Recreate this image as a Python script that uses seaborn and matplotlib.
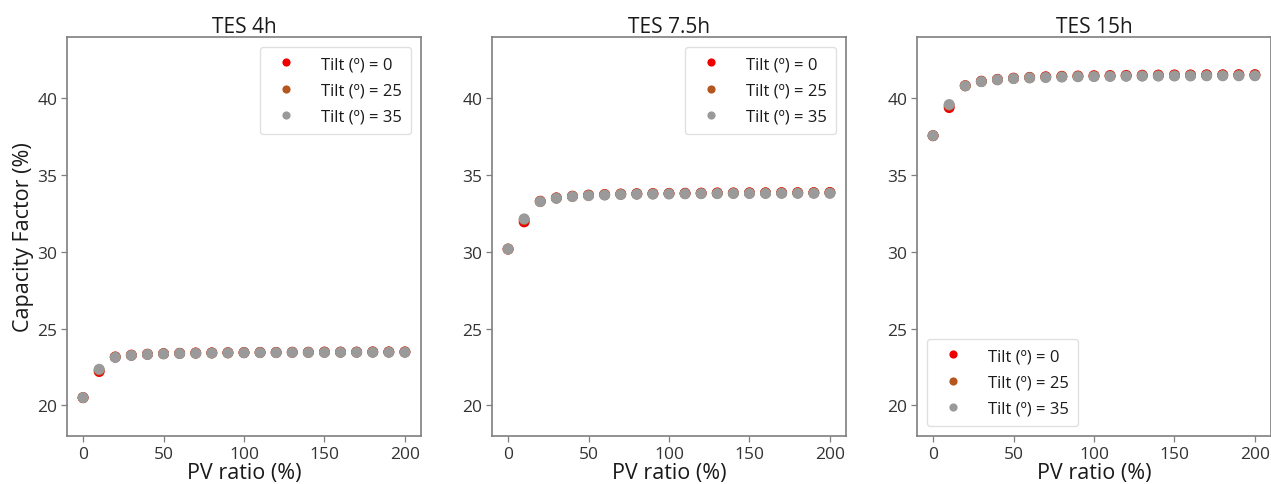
import numpy as np
import pandas as pd
import matplotlib
matplotlib.use("Agg")
import matplotlib.pyplot as plt
import seaborn as sns

# PV ratio (%) sampled every 10 %
pv_ratio = [0, 10, 20, 30, 40, 50, 60, 70, 80, 90, 100,
            110, 120, 130, 140, 150, 160, 170, 180, 190, 200]

# Capacity factor (%) for each storage size and panel tilt
tes4_tilt0 = [20.5, 22.2, 23.15, 23.27, 23.33, 23.37, 23.39, 23.41, 23.42, 23.43, 23.44,
              23.45, 23.45, 23.46, 23.46, 23.47, 23.47, 23.47, 23.48, 23.48, 23.48]
tes4_tilt25 = [20.5, 22.3, 23.14, 23.26, 23.32, 23.36, 23.38, 23.40, 23.41, 23.42, 23.43,
               23.44, 23.44, 23.45, 23.45, 23.46, 23.46, 23.46, 23.47, 23.47, 23.47]
tes4_tilt35 = [20.5, 22.35, 23.12, 23.25, 23.31, 23.35, 23.37, 23.39, 23.40, 23.41, 23.42,
               23.43, 23.43, 23.44, 23.44, 23.44, 23.45, 23.45, 23.45, 23.45, 23.45]

tes75_tilt0 = [30.18, 31.95, 33.3, 33.52, 33.63, 33.7, 33.74, 33.77, 33.79, 33.8, 33.81,
               33.82, 33.83, 33.84, 33.84, 33.85, 33.85, 33.86, 33.86, 33.86, 33.87]
tes75_tilt25 = [30.18, 32.1, 33.28, 33.5, 33.61, 33.68, 33.72, 33.75, 33.77, 33.78, 33.79,
                33.8, 33.81, 33.81, 33.82, 33.82, 33.83, 33.83, 33.83, 33.84, 33.84]
tes75_tilt35 = [30.18, 32.15, 33.27, 33.49, 33.6, 33.66, 33.7, 33.73, 33.75, 33.76, 33.77,
                33.78, 33.79, 33.79, 33.8, 33.8, 33.8, 33.81, 33.81, 33.81, 33.81]

tes15_tilt0 = [37.57, 39.4, 40.83, 41.12, 41.24, 41.32, 41.37, 41.41, 41.44, 41.46, 41.48,
               41.49, 41.5, 41.51, 41.52, 41.53, 41.53, 41.54, 41.54, 41.55, 41.55]
tes15_tilt25 = [37.57, 39.55, 40.82, 41.1, 41.22, 41.3, 41.35, 41.38, 41.41, 41.43, 41.44,
                41.45, 41.46, 41.47, 41.48, 41.48, 41.49, 41.49, 41.5, 41.5, 41.5]
tes15_tilt35 = [37.57, 39.6, 40.81, 41.09, 41.21, 41.29, 41.33, 41.36, 41.39, 41.41, 41.42,
                41.43, 41.44, 41.45, 41.45, 41.46, 41.46, 41.47, 41.47, 41.47, 41.47]

tilt_labels = ["Tilt (º) = 0", "Tilt (º) = 25", "Tilt (º) = 35"]
panel_titles = ["TES 4h", "TES 7.5h", "TES 15h"]
series = [
    [tes4_tilt0, tes4_tilt25, tes4_tilt35],
    [tes75_tilt0, tes75_tilt25, tes75_tilt35],
    [tes15_tilt0, tes15_tilt25, tes15_tilt35],
]
legend_locs = ["upper right", "upper right", "lower left"]

palette = {tilt_labels[0]: "#ee0000",
           tilt_labels[1]: "#b5561f",
           tilt_labels[2]: "#9a9a9a"}

sns.set_theme(style="ticks")
plt.rcParams["font.family"] = ["Open Sans", "DejaVu Sans"]
plt.rcParams["axes.edgecolor"] = "#7f7f7f"
plt.rcParams["xtick.color"] = "#7f7f7f"
plt.rcParams["ytick.color"] = "#7f7f7f"
plt.rcParams["xtick.labelcolor"] = "#333333"
plt.rcParams["ytick.labelcolor"] = "#333333"

fig = plt.figure(figsize=(12.71, 4.85), dpi=100)
lefts = [67, 492, 917]
bottom_px, top_px = 437, 38
W, H = 1271, 485

for i, (title, group) in enumerate(zip(panel_titles, series)):
    ax = fig.add_axes([lefts[i] / W, (H - bottom_px) / H,
                       354 / W, (bottom_px - top_px) / H])
    frames = []
    for label, values in zip(tilt_labels, group):
        frames.append(pd.DataFrame({"PV ratio": pv_ratio,
                                    "Capacity Factor": values,
                                    "Tilt": label}))
    df = pd.concat(frames, ignore_index=True)
    sns.scatterplot(data=df, x="PV ratio", y="Capacity Factor", hue="Tilt",
                    palette=palette, hue_order=tilt_labels, s=62,
                    edgecolor="none", linewidth=0, ax=ax)
    ax.set_xlim(-10, 210)
    ax.set_ylim(18.0, 44.0)
    ax.set_xticks([0, 50, 100, 150, 200])
    ax.set_yticks([20, 25, 30, 35, 40])
    ax.tick_params(labelsize=12.5, length=4, width=0.9, pad=3)
    ax.set_title(title, fontsize=15, color="#1a1a1a", pad=3)
    ax.set_xlabel("PV ratio (%)", fontsize=15.5, color="#1a1a1a", labelpad=0)
    if i == 0:
        ax.set_ylabel("Capacity Factor (%)", fontsize=15.5, color="#1a1a1a",
                      labelpad=2)
    else:
        ax.set_ylabel("")
    for sp in ax.spines.values():
        sp.set_linewidth(1.2)
    leg = ax.legend(loc=legend_locs[i], fontsize=12, title=None,
                    borderpad=0.55, handlelength=2.0, handletextpad=1.1,
                    labelspacing=0.62, markerscale=0.75, frameon=True,
                    borderaxespad=0.6)
    leg.get_frame().set_edgecolor("#d9d9d9")
    for t in leg.get_texts():
        t.set_color("#1a1a1a")

fig.savefig("out.png", dpi=100)
